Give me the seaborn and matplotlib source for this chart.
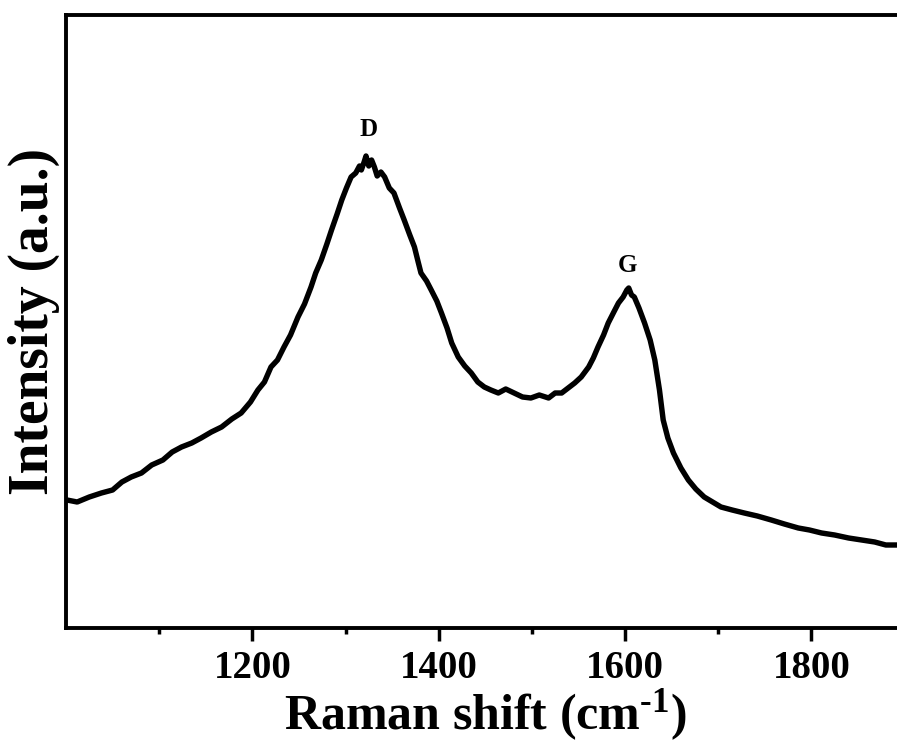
import matplotlib
matplotlib.use("Agg")
import matplotlib.pyplot as plt
import seaborn as sns
import pandas as pd

# Data (Raman shift in cm^-1, intensity in arbitrary units)
raman_shift = [1001, 1012, 1025, 1038, 1050, 1060, 1070, 1081, 1092, 1104, 1114, 1124,
               1135, 1145, 1156, 1167, 1178, 1188, 1198, 1206, 1213, 1220, 1227, 1234,
               1241, 1249, 1256, 1263, 1268, 1274, 1280, 1285, 1291, 1296, 1301, 1306,
               1311, 1315, 1317, 1320, 1322, 1325, 1328, 1331, 1334, 1338, 1342, 1347,
               1352, 1358, 1363, 1369, 1374, 1378, 1381, 1387, 1392, 1398, 1403, 1409,
               1414, 1421, 1428, 1435, 1442, 1449, 1456, 1464, 1472, 1481, 1490, 1499,
               1508, 1518, 1525, 1532, 1539, 1546, 1553, 1561, 1566, 1571, 1577, 1582,
               1588, 1593, 1598, 1602, 1604, 1607, 1610, 1615, 1621, 1627, 1632, 1637,
               1641, 1646, 1652, 1660, 1668, 1676, 1685, 1694, 1703, 1715, 1728, 1742,
               1757, 1771, 1786, 1798, 1811, 1825, 1840, 1854, 1868, 1880, 1893]
intensity = [128, 126, 131, 135, 138, 146, 151, 155, 163, 168, 176, 181,
             185, 190, 196, 201, 209, 215, 226, 238, 246, 261, 268, 281,
             293, 311, 324, 341, 355, 368, 384, 398, 414, 428, 440, 451,
             455, 462, 458, 466, 472, 462, 468, 461, 452, 456, 451, 440,
             435, 420, 408, 393, 381, 366, 355, 347, 338, 327, 315, 300,
             285, 271, 262, 255, 246, 241, 238, 235, 239, 235, 231, 230,
             233, 230, 235, 235, 240, 245, 251, 261, 270, 281, 293, 305,
             316, 325, 331, 338, 340, 333, 331, 320, 305, 288, 268, 238,
             208, 190, 175, 160, 148, 139, 131, 126, 121, 118, 115, 112,
             108, 104, 100, 98, 95, 93, 90, 88, 86, 83, 83]

major_ticks = [1200, 1400, 1600, 1800]
minor_ticks = [1100, 1300, 1500, 1700]

peak_labels = ["D", "G"]
peak_x = [1325, 1603]
peak_y = [498, 363]

sns.set_theme(style="ticks")
plt.rcParams["font.family"] = ["Liberation Serif", "DejaVu Serif"]
plt.rcParams["font.weight"] = "bold"
plt.rcParams["text.color"] = "black"
plt.rcParams["axes.labelcolor"] = "black"
plt.rcParams["xtick.color"] = "black"
plt.rcParams["ytick.color"] = "black"
plt.rcParams["mathtext.fontset"] = "custom"
plt.rcParams["mathtext.rm"] = "Liberation Serif:bold"
plt.rcParams["mathtext.bf"] = "Liberation Serif:bold"
plt.rcParams["mathtext.it"] = "Liberation Serif:bold"

df = pd.DataFrame({"shift": raman_shift, "intensity": intensity})

fig = plt.figure(figsize=(8.97, 7.43), dpi=100)
fig.patch.set_facecolor("white")
ax = fig.add_axes([66 / 897, 1 - 628 / 743, 838.5 / 897, 613 / 743])
ax.set_facecolor("white")

sns.lineplot(data=df, x="shift", y="intensity", color="black", linewidth=3.9,
             ax=ax, estimator=None, sort=True)

ax.set_xlim(1000, 1900)
ax.set_ylim(0, 613)
ax.set_xticks(major_ticks)
ax.set_xticks(minor_ticks, minor=True)
ax.set_yticks([])

for s in ax.spines.values():
    s.set_linewidth(2.8)
    s.set_color("black")

ax.tick_params(axis="x", which="major", direction="out", length=9, width=2.5,
               labelsize=28, pad=7, color="black", labelcolor="black")
ax.tick_params(axis="x", which="minor", direction="out", length=4.5, width=2.5,
               color="black")
for lab in ax.get_xticklabels():
    lab.set_fontweight("bold")

ax.set_xlabel(r"Raman shift (cm$^{\text{-1}}$)", fontsize=36, fontweight="bold",
              labelpad=0, color="black")
ax.set_ylabel("Intensity (a.u.)", fontsize=40, fontweight="bold", labelpad=4,
              color="black")

for lbl, px, py in zip(peak_labels, peak_x, peak_y):
    ax.text(px, py, lbl, fontsize=18, fontweight="bold", ha="center", va="center",
            color="black")

fig.savefig("out.png", dpi=100, facecolor="white")
